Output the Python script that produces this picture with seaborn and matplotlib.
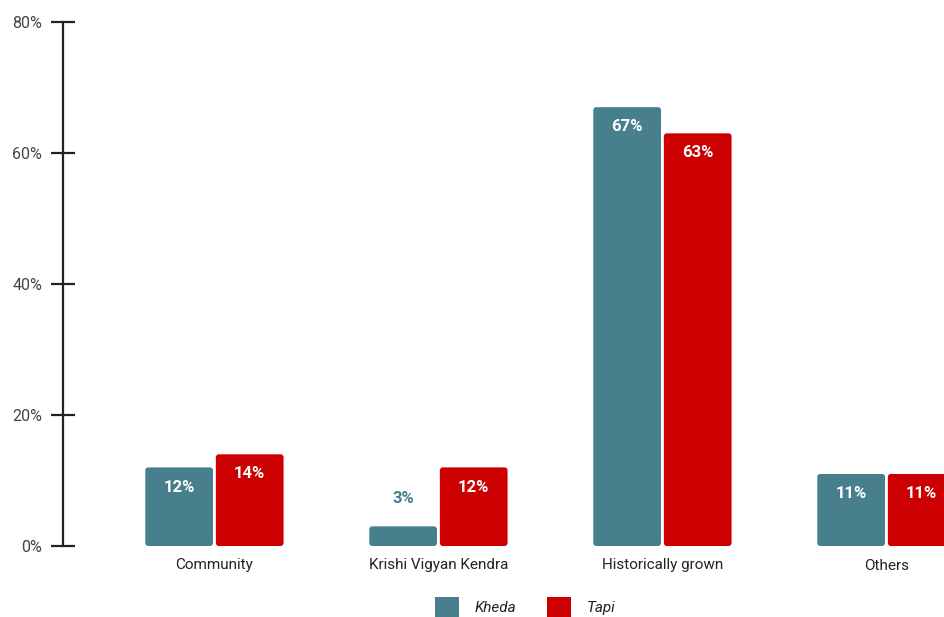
import matplotlib
matplotlib.use("Agg")
import matplotlib.pyplot as plt
from matplotlib.patches import FancyBboxPatch, Patch
import seaborn as sns
import pandas as pd

# Source of seed by district
categories = ["Community", "Krishi Vigyan Kendra", "Historically grown", "Others"]
districts = ["Kheda", "Tapi"]
kheda = [12, 3, 67, 11]
tapi = [14, 12, 63, 11]
y_ticks = [0, 20, 40, 60, 80]
y_tick_labels = ["0%", "20%", "40%", "60%", "80%"]

colors = {"Kheda": "#47808C", "Tapi": "#CC0000"}

df = pd.DataFrame({
    "source": categories * 2,
    "district": ["Kheda"] * len(categories) + ["Tapi"] * len(categories),
    "share": kheda + tapi,
})

sns.set_theme(style="white")
plt.rcParams["font.family"] = ["Roboto", "DejaVu Sans"]

fig = plt.figure(figsize=(9.44, 6.17), dpi=100)
ax = fig.add_axes([63 / 944, 71 / 617, 1 - 63 / 944, 524 / 617])

sns.barplot(data=df, x="source", y="share", hue="district", order=categories,
            hue_order=districts, palette=colors, width=0.63, gap=0.04,
            legend=False, ax=ax, saturation=1)

ax.set_xlim(-0.676, 3.257)
ax.set_ylim(0, 80)

# replace plain rectangles with slightly rounded ones
fig.canvas.draw()
x_per_px = (ax.get_xlim()[1] - ax.get_xlim()[0]) / ax.bbox.width
y_per_px = (ax.get_ylim()[1] - ax.get_ylim()[0]) / ax.bbox.height
bars = [p for p in ax.patches]
for p in bars:
    x, y, w, h = p.get_x(), p.get_y(), p.get_width(), p.get_height()
    fc = p.get_facecolor()
    p.remove()
    fb = FancyBboxPatch((x, y), w, h,
                        boxstyle=f"round,pad=0,rounding_size={3 * x_per_px}",
                        mutation_aspect=y_per_px / x_per_px,
                        facecolor=fc, edgecolor="none", clip_on=True)
    ax.add_patch(fb)

# value labels
slot = 0.63 / 2
for i, cat in enumerate(categories):
    for j, (name, vals) in enumerate(zip(districts, [kheda, tapi])):
        v = vals[i]
        xc = i - 0.63 / 2 + slot * (j + 0.5)
        if v >= 8:
            ax.text(xc, v - 3.0, f"{v}%", ha="center", va="center",
                    color="white", fontsize=12, fontweight="bold", clip_on=True)
        else:
            ax.text(xc, v + 4.3, f"{v}%", ha="center", va="center",
                    color=colors[name], fontsize=12, fontweight="bold")

ax.set_yticks(y_ticks)
ax.set_yticklabels(y_tick_labels, color="#444444", fontsize=11.5)
ax.tick_params(axis="y", direction="inout", length=17, width=1.6,
               color="#222222", pad=6.5, left=True)
ax.tick_params(axis="x", length=0, pad=9.0, labelsize=11, labelcolor="#222222")
ax.set_xlabel("")
ax.set_ylabel("")

for side in ["top", "right", "bottom"]:
    ax.spines[side].set_visible(False)
ax.spines["left"].set_color("#222222")
ax.spines["left"].set_linewidth(1.6)

handles = [Patch(facecolor=colors[d], edgecolor="none") for d in districts]
leg = fig.legend(handles, districts, loc="center",
                 bbox_to_anchor=(525 / 944, 10 / 617), ncol=2, frameon=False,
                 fontsize=11, handlelength=1.6, handleheight=1.6,
                 handletextpad=1.0, columnspacing=2.0, borderpad=0)
for t in leg.get_texts():
    t.set_fontstyle("italic")
    t.set_color("#222222")

fig.savefig("out.png", dpi=100)
